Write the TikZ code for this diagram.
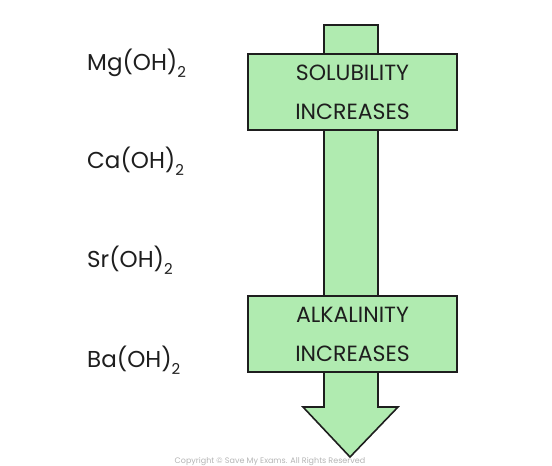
\documentclass[tikz,border=0pt]{standalone}
\usepackage{fontspec}
\setmainfont{Poppins}
\definecolor{ArrowGreen}{HTML}{B0EBB0}
\definecolor{InkDark}{HTML}{1E1E1E}
\definecolor{MarkGrey}{HTML}{B4B4B4}
\newcommand{\twosub}{\raisebox{-7bp}{\fontsize{15bp}{15bp}\selectfont 2}}
\tikzset{
  arrow body/.style={
    fill=ArrowGreen,draw=InkDark,line width=1.6bp,line join=miter
  },
  trend box/.style={
    fill=ArrowGreen,draw=InkDark,line width=1.6bp,
    minimum width=209bp,minimum height=76bp,inner sep=0pt,
    align=center,text=InkDark,
    font=\fontsize{22bp}{39bp}\selectfont
  },
  compound/.style={
    anchor=base west,inner sep=0pt,text=InkDark,
    font=\fontsize{23bp}{23bp}\selectfont
  },
}
\begin{document}
\begin{tikzpicture}[x=1bp,y=-1bp]
  \useasboundingbox (0,0) rectangle (552,466);
  % the big arrow
  \draw[arrow body] (324,25) -- (378,25) -- (378,407) -- (398,407)
    -- (350,457) -- (303,407) -- (324,407) -- cycle;
  % the two boxes
  \node[trend box] (sol) at (352.5,92) {SOLUBILITY\\INCREASES};
  \node[trend box] (alk) at (352.5,334) {ALKALINITY\\INCREASES};
  % the hydroxides
  \node[compound] (mg) at (87,71)  {Mg(OH)\twosub};
  \node[compound] (ca) at (87,169) {Ca(OH)\twosub};
  \node[compound] (sr) at (87,268) {Sr(OH)\twosub};
  \node[compound] (ba) at (87,367) {Ba(OH)\twosub};
  \node[anchor=base,text=MarkGrey,font=\fontsize{8bp}{8bp}\selectfont]
    (copy) at (270,463) {Copyright © Save My Exams. All Rights Reserved};
\end{tikzpicture}
\end{document}
